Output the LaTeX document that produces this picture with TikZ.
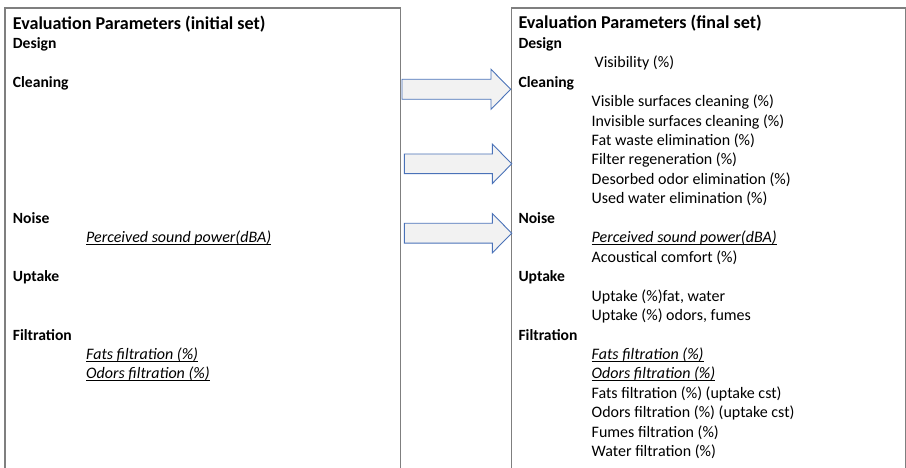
\documentclass[tikz,border=0pt]{standalone}
\usepackage{fontspec}
\setmainfont{Carlito}
\definecolor{boxgray}{HTML}{7F7F7F}
\definecolor{arrowblue}{HTML}{4A72B8}
\definecolor{arrowfill}{HTML}{F2F2F2}
\newcommand\ulit[1]{\setbox0\hbox{\itshape #1}\rlap{\rule[-2.4bp]{\wd0}{0.9bp}}\box0}
\newcommand\Lb[1]{48.3+19.45*#1}
\tikzset{
 frame/.style={draw=boxgray, line width=1.3bp},
 blockarrow/.style={draw=arrowblue, fill=arrowfill, line width=0.9bp, line join=miter},
 lbl/.style={anchor=base west, inner sep=0pt, font=\bfseries\fontsize{15.6bp}{18bp}\selectfont},
 item/.style={anchor=base west, inner sep=0pt, font=\fontsize{16bp}{18bp}\selectfont},
 ttl/.style={anchor=base west, inner sep=0pt, font=\bfseries\fontsize{18.1bp}{20bp}\selectfont},
}
\begin{document}
\begin{tikzpicture}[x=1bp,y=-1bp]
\useasboundingbox (0,0) rectangle (906,468);
% frames (open at the bottom)
\draw[frame] (5,470) -- (5,8) -- (400.7,8) -- (400.7,470);
\draw[frame] (511.3,470) -- (511.3,8) -- (905.6,8) -- (905.6,470);
% block arrows
\draw[blockarrow] (402,79.3) -- (491,79.3) -- (491,69.3) -- (510.7,89.3) -- (491,109.3) -- (491,99.3) -- (402,99.3) -- cycle;
\draw[blockarrow] (404.3,154) -- (492.3,154) -- (492.3,144) -- (511.7,163.8) -- (492.3,183.6) -- (492.3,173.6) -- (404.3,173.6) -- cycle;
\draw[blockarrow] (404.3,223.3) -- (492.3,223.3) -- (492.3,213.5) -- (511.7,233.2) -- (492.3,252.9) -- (492.3,243.1) -- (404.3,243.1) -- cycle;
% left box
\node[ttl] (ltitle) at (12.7,29.3) {Evaluation Parameters (initial set)};
\node[lbl] (ldesign) at (12.7,{\Lb{0}}) {Design};
\node[lbl] (lclean) at (12.7,{\Lb{2}}) {Cleaning};
\node[lbl] (lnoise) at (12.7,{\Lb{9}}) {Noise};
\node[item] (lperc) at (86,{\Lb{10}}) {\ulit{Perceived sound power(dBA)}};
\node[lbl] (luptake) at (12.7,{\Lb{12}}) {Uptake};
\node[lbl] (lfilt) at (12.7,{\Lb{15}}) {Filtration};
\node[item] (lfats) at (86,{\Lb{16}}) {\ulit{Fats filtration (\%)}};
\node[item] (lodors) at (86,{\Lb{17}}) {\ulit{Odors filtration (\%)}};
% right box
\node[ttl] (rtitle) at (518.3,28.6) {Evaluation Parameters (final set)};
\node[lbl] (rdesign) at (518.3,{\Lb{0}}) {Design};
\node[item] (rvis) at (594.5,{\Lb{1}}) {Visibility (\%)};
\node[lbl] (rclean) at (518.3,{\Lb{2}}) {Cleaning};
\node[item] (rc1) at (591.5,{\Lb{3}}) {Visible surfaces cleaning (\%)};
\node[item] (rc2) at (591.5,{\Lb{4}}) {Invisible surfaces cleaning (\%)};
\node[item] (rc3) at (591.5,{\Lb{5}}) {Fat waste elimination (\%)};
\node[item] (rc4) at (591.5,{\Lb{6}}) {Filter regeneration (\%)};
\node[item] (rc5) at (591.5,{\Lb{7}}) {Desorbed odor elimination (\%)};
\node[item] (rc6) at (591.5,{\Lb{8}}) {Used water elimination (\%)};
\node[lbl] (rnoise) at (518.3,{\Lb{9}}) {Noise};
\node[item] (rn1) at (591.5,{\Lb{10}}) {\ulit{Perceived sound power(dBA)}};
\node[item] (rn2) at (591.5,{\Lb{11}}) {Acoustical comfort (\%)};
\node[lbl] (ruptake) at (518.3,{\Lb{12}}) {Uptake};
\node[item] (ru1) at (591.5,{\Lb{13}}) {Uptake (\%)fat, water};
\node[item] (ru2) at (591.5,{\Lb{14}}) {Uptake (\%) odors, fumes};
\node[lbl] (rfilt) at (518.3,{\Lb{15}}) {Filtration};
\node[item] (rf1) at (591.5,{\Lb{16}}) {\ulit{Fats filtration (\%)}};
\node[item] (rf2) at (591.5,{\Lb{17}}) {\ulit{Odors filtration (\%)}};
\node[item] (rf3) at (591.5,{\Lb{18}}) {Fats filtration (\%) (uptake cst)};
\node[item] (rf4) at (591.5,{\Lb{19}}) {Odors filtration (\%) (uptake cst)};
\node[item] (rf5) at (591.5,{\Lb{20}}) {Fumes filtration (\%)};
\node[item] (rf6) at (591.5,{\Lb{21}}) {Water filtration (\%)};
\end{tikzpicture}
\end{document}
